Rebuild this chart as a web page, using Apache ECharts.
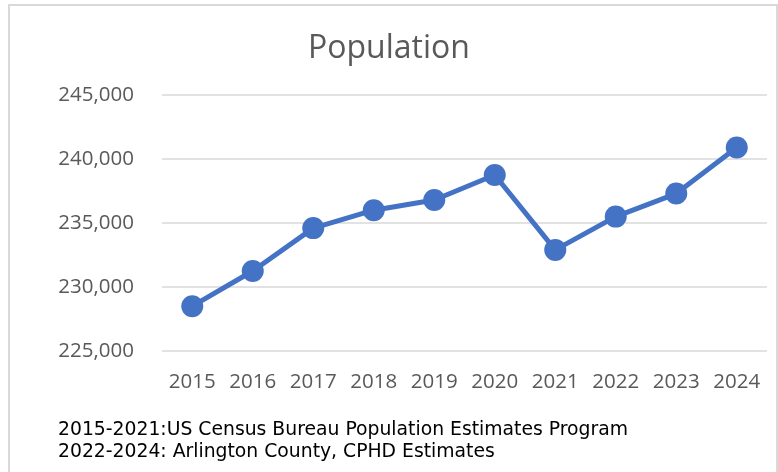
<!DOCTYPE html>
<html>
<head>
<meta charset="utf-8">
<script src="https://cdn.jsdelivr.net/npm/echarts@6/dist/echarts.min.js"></script>
<style>
html,body{margin:0;padding:0;background:#fff;}
#chart{width:778px;height:472px;}
</style>
</head>
<body>
<div id="chart"></div>
<script>
const years = ['2015','2016','2017','2018','2019','2020','2021','2022','2023','2024'];
const population = [228500, 231250, 234600, 236000, 236800, 238750, 232900, 235500, 237300, 240900];
const yMin = 225000, yMax = 245000, yStep = 5000;
const titleText = 'Population';
const notes = ['2015-2021:US Census Bureau Population Estimates Program', '2022-2024: Arlington County, CPHD Estimates'];

const chart = echarts.init(document.getElementById('chart'));
chart.setOption({
  backgroundColor: '#fff',
  animation: false,
  title: {
    text: titleText, left: 'center', top: 28,
    textStyle: {fontFamily: 'Open Sans', fontSize: 32, fontWeight: 'normal', color: '#595959'}
  },
  grid: {left: 162, right: 11, top: 95, bottom: 121},
  xAxis: {
    type: 'category', data: years, boundaryGap: true,
    axisLine: {show: false}, axisTick: {show: false},
    axisLabel: {interval: 0, fontFamily: 'Open Sans', fontSize: 20.5, color: '#595959', margin: 21}
  },
  yAxis: {
    type: 'value', min: yMin, max: yMax, interval: yStep,
    axisLine: {show: false}, axisTick: {show: false},
    splitLine: {lineStyle: {color: '#D9D9D9', width: 1.5}},
    axisLabel: {fontFamily: 'Open Sans', fontSize: 20.5, color: '#595959', margin: 28,
      formatter: v => v.toLocaleString('en-US')}
  },
  series: [{
    type: 'line', data: population,
    symbol: 'circle', symbolSize: 22,
    lineStyle: {color: '#4472C4', width: 5},
    itemStyle: {color: '#4472C4'}
  }],
  graphic: [
    {type: 'rect', shape: {x: 9, y: 5, width: 768, height: 480}, style: {fill: 'none', stroke: '#D9D9D9', lineWidth: 2}, silent: true},
    {type: 'text', x: 58, y: 430, style: {text: notes[0], fontFamily: 'DejaVu Sans', fontSize: 18.8, fill: '#000', verticalAlign: 'middle'}},
    {type: 'text', x: 58, y: 452, style: {text: notes[1], fontFamily: 'DejaVu Sans', fontSize: 18.8, fill: '#000', verticalAlign: 'middle'}}
  ]
});
</script>
</body>
</html>
